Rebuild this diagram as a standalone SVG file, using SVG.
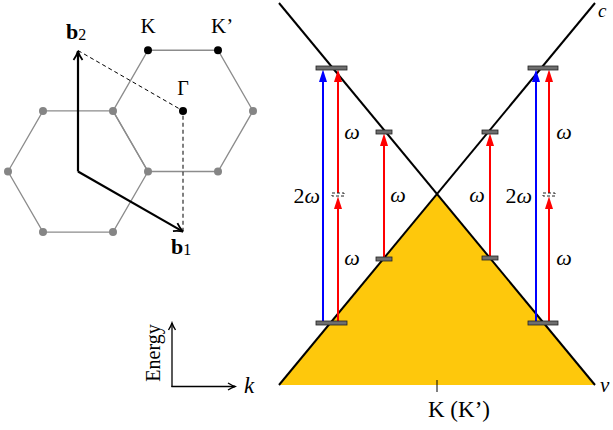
<svg xmlns="http://www.w3.org/2000/svg" width="613" height="430" viewBox="0 0 613 430">
<style>
.t{font-family:"Liberation Serif","Times New Roman",serif;fill:#000}
.w{font-family:"Liberation Serif","Times New Roman",serif;font-style:italic;font-size:22px}
.hex{fill:none;stroke:#8c8c8c;stroke-width:1.3}
.gd{fill:#858585}
.bd{fill:#000}
.bar{fill:#6e6e6e;stroke:#222;stroke-width:0.8}
.vbar{fill:none;stroke:#222;stroke-width:1;stroke-dasharray:3,2}
.red{stroke:#ff0000;stroke-width:2;fill:none}
.blue{stroke:#0000ff;stroke-width:2;fill:none}
.cone{stroke:#000;stroke-width:2;fill:none}
.dash{stroke:#000;stroke-width:1;stroke-dasharray:4,3;fill:none}
.vec{stroke:#000;stroke-width:2.2;fill:none}
</style>
<defs>
<marker id="ar" markerUnits="userSpaceOnUse" markerWidth="13" markerHeight="9" refX="6" refY="4.5" orient="auto" viewBox="0 0 13 9"><path d="M0,0.5 L12.5,4.5 L0,8.5 z" fill="#ff0000"/></marker>
<marker id="ab" markerUnits="userSpaceOnUse" markerWidth="13" markerHeight="9" refX="6" refY="4.5" orient="auto" viewBox="0 0 13 9"><path d="M0,0.5 L12.5,4.5 L0,8.5 z" fill="#0000ff"/></marker>
<marker id="open" markerUnits="userSpaceOnUse" markerWidth="14" markerHeight="12" refX="12" refY="6" orient="auto" viewBox="0 0 14 12"><path d="M3,1.5 Q8,5 12,6 Q8,7 3,10.5" fill="none" stroke="#000" stroke-width="1.8"/></marker>
<marker id="opens" markerUnits="userSpaceOnUse" markerWidth="12" markerHeight="10" refX="10" refY="5" orient="auto" viewBox="0 0 12 10"><path d="M3,1.5 Q7,4 10,5 Q7,6 3,8.5" fill="none" stroke="#000" stroke-width="1.4"/></marker>
</defs>

<g id="brillouin-zone">
<polygon class="hex" points="8,171.5 43,110.88 113,110.88 148,171.5 113,232.12 43,232.12"/>
<polygon class="hex" points="113,110.88 148,50.26 218,50.26 253,110.88 218,171.5 148,171.5"/>
<g class="gd">
<circle cx="8" cy="171.5" r="4"/><circle cx="43" cy="110.88" r="4"/><circle cx="113" cy="110.88" r="4"/>
<circle cx="148" cy="171.5" r="4"/><circle cx="113" cy="232.12" r="4"/><circle cx="43" cy="232.12" r="4"/>
<circle cx="253" cy="110.88" r="4"/><circle cx="218" cy="171.5" r="4"/>
</g>
<g class="bd">
<circle id="K-point" cx="148" cy="50.26" r="4"/><circle id="Kp-point" cx="218" cy="50.26" r="4"/><circle id="Gamma-point" cx="183" cy="110.88" r="4"/>
</g>
<path class="dash" d="M78,50.5 L183,110.88 L183,231"/>
<line class="vec" x1="78" y1="171.5" x2="78" y2="51" marker-end="url(#open)"/>
<line class="vec" x1="78" y1="171.5" x2="183" y2="231.6" marker-end="url(#open)"/>
<text class="t" x="66" y="39" font-size="22" font-weight="bold">b<tspan font-weight="normal" font-size="16" dy="1">2</tspan></text>
<text class="t" x="171" y="254" font-size="22" font-weight="bold">b<tspan font-weight="normal" font-size="16" dy="1">1</tspan></text>
<text class="t" x="148" y="33" font-size="21" text-anchor="middle">K</text>
<text class="t" x="211" y="33" font-size="21">K’</text>
<text class="t" x="183" y="95" font-size="20" text-anchor="middle">Γ</text>
</g>

<g id="axes">
<line stroke="#000" stroke-width="1.3" x1="172" y1="387" x2="172" y2="323" marker-end="url(#opens)"/>
<line stroke="#000" stroke-width="1.3" x1="171.4" y1="386.5" x2="235" y2="386.5" marker-end="url(#opens)"/>
<text class="t" x="0" y="0" font-size="20" text-anchor="middle" transform="translate(160,353) rotate(-90)">Energy</text>
<text class="t" x="244" y="393" font-size="23" font-style="italic">k</text>
</g>

<g id="dirac-cone">
<polygon points="279,385 437,194 595,385" fill="#fec80c"/>
<line class="cone" x1="279" y1="3" x2="595" y2="385"/>
<line class="cone" x1="279" y1="385" x2="595" y2="3"/>
<text class="t" x="598" y="17" font-size="19" font-style="italic">c</text>
<text class="t" x="600" y="392" font-size="21" font-style="italic">v</text>
<line stroke="#000" stroke-width="1" x1="437" y1="380" x2="437" y2="392"/>
<text class="t" x="428" y="417" font-size="23">K (K’)</text>
</g>

<g id="connectors">
<line class="blue" x1="323" y1="323" x2="323" y2="76" marker-end="url(#ab)"/>
<line class="red" x1="338" y1="323" x2="338" y2="203" marker-end="url(#ar)"/>
<line class="red" x1="338" y1="193" x2="338" y2="76" marker-end="url(#ar)"/>
<line class="red" x1="384" y1="259" x2="384" y2="140" marker-end="url(#ar)"/>
<line class="red" x1="490" y1="258" x2="490" y2="140" marker-end="url(#ar)"/>
<line class="blue" x1="536" y1="323" x2="536" y2="76" marker-end="url(#ab)"/>
<line class="red" x1="549" y1="323" x2="549" y2="203" marker-end="url(#ar)"/>
<line class="red" x1="549" y1="193" x2="549" y2="76" marker-end="url(#ar)"/>
</g>

<g id="levels">
<rect class="bar" x="316" y="66" width="31" height="4"/>
<rect class="bar" x="316" y="321" width="31" height="4"/>
<rect class="bar" x="376" y="130" width="16" height="4"/>
<rect class="bar" x="376" y="257" width="16" height="4"/>
<rect class="bar" x="528" y="66" width="30" height="4"/>
<rect class="bar" x="528" y="321" width="30" height="4"/>
<rect class="bar" x="482" y="130" width="16" height="4"/>
<rect class="bar" x="482" y="256" width="16" height="4"/>
<rect class="vbar" x="332" y="193" width="12" height="3"/>
<rect class="vbar" x="543" y="193" width="12" height="3"/>
</g>

<g id="labels">
<text class="w" x="352" y="139" text-anchor="middle">ω</text>
<text class="w" x="352" y="265" text-anchor="middle">ω</text>
<text class="w" x="398" y="202" text-anchor="middle">ω</text>
<text class="t" x="320" y="203" font-size="22" text-anchor="end">2<tspan font-style="italic">ω</tspan></text>
<text class="w" x="477" y="202" text-anchor="middle">ω</text>
<text class="t" x="532" y="203" font-size="22" text-anchor="end">2<tspan font-style="italic">ω</tspan></text>
<text class="w" x="564" y="139" text-anchor="middle">ω</text>
<text class="w" x="564" y="265" text-anchor="middle">ω</text>
</g>
</svg>
